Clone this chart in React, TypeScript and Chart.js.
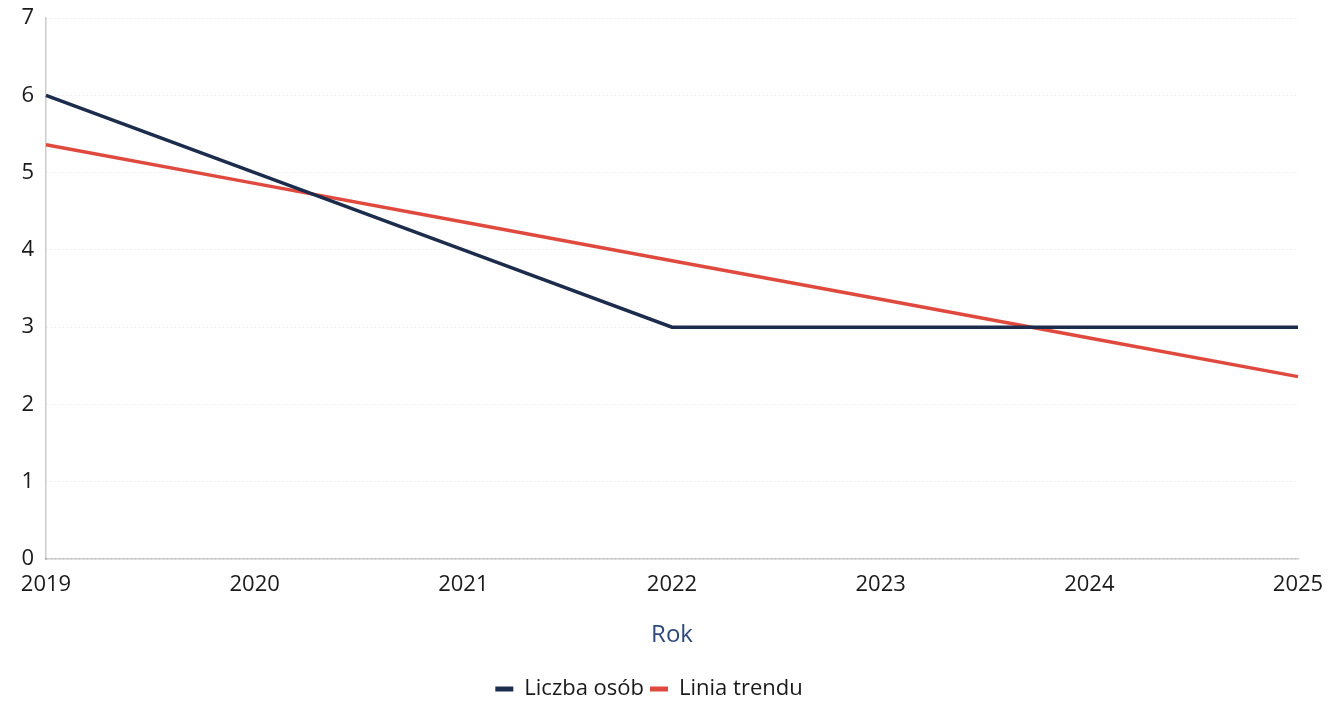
import React, { useEffect, useRef } from "react";
import { Chart, registerables } from "chart.js";

Chart.register(...registerables);

const years = ["2019", "2020", "2021", "2022", "2023", "2024", "2025"];
const liczbaOsob = [6, 5, 4, 3, 3, 3, 3];
const liniaTrendu = [5.36, 4.86, 4.36, 3.86, 3.36, 2.86, 2.36];
const yTicks = [0, 1, 2, 3, 4, 5, 6, 7];

const BLUE = "#1c2c4c";
const RED = "#e0493e";
const FONT = "'Open Sans', 'Noto Sans', sans-serif";

const legendShift = {
  id: "legendShift",
  afterLayout(chart: any) {
    const lg = chart.legend;
    if (lg) {
      lg.top += 8;
      lg.bottom += 8;
    }
  },
};

export default function App() {
  const ref = useRef<HTMLCanvasElement | null>(null);

  useEffect(() => {
    if (!ref.current) return;
    const chart = new Chart(ref.current, {
      type: "line",
      plugins: [legendShift],
      data: {
        labels: years,
        datasets: [
          {
            label: "Liczba osób",
            data: liczbaOsob,
            borderColor: BLUE,
            backgroundColor: BLUE,
            borderWidth: 3.5,
            pointRadius: 0,
            tension: 0,
            fill: false,
          },
          {
            label: "Linia trendu",
            data: liniaTrendu,
            borderColor: RED,
            backgroundColor: RED,
            borderWidth: 3.5,
            pointRadius: 0,
            tension: 0,
            fill: false,
          },
        ],
      },
      options: {
        responsive: false,
        animation: false,
        layout: { padding: { top: 18, right: 40, left: 0, bottom: 0 } },
        plugins: {
          tooltip: { enabled: false },
          legend: {
            position: "bottom",
            labels: {
              color: "#1a1a1a",
              font: { family: FONT, size: 22 },
              boxWidth: 18,
              boxHeight: 5,
              padding: 6,
              generateLabels: (c: any) =>
                Chart.defaults.plugins.legend.labels
                  .generateLabels(c)
                  .map((l: any) => ({ ...l, lineWidth: 0 })),
            },
          },
        },
        scales: {
          x: {
            type: "category",
            offset: false,
            grid: { display: false, drawTicks: false },
            border: { color: "rgba(0,0,0,0.2)", dash: [2, 2], width: 1.5 },
            ticks: {
              color: "#1a1a1a",
              font: { family: FONT, size: 22 },
              padding: 13,
              maxRotation: 0,
              autoSkip: false,
            },
            title: {
              display: true,
              text: "Rok",
              color: "#2e4a7d",
              font: { family: FONT, size: 24 },
              padding: { top: 0, bottom: 14 },
            },
            afterFit: (s: any) => {
              s.height = 105;
            },
          },
          y: {
            min: 0,
            max: 7,
            afterBuildTicks: (s: any) => {
              s.ticks = yTicks.map((v) => ({ value: v }));
            },
            grid: {
              color: "rgba(0,0,0,0.06)",
              drawTicks: false,
            },
            border: { color: "rgba(0,0,0,0.2)", dash: [2, 2], width: 1.5 },
            ticks: {
              color: "#1a1a1a",
              font: { family: FONT, size: 22 },
              padding: 12,
            },
            afterFit: (s: any) => {
              s.width = 46;
              s.paddingTop = 0;
              s.paddingBottom = 0;
            },
          },
        },
      } as any,
    });
    return () => chart.destroy();
  }, []);

  return (
    <div style={{ position: "fixed", left: 0, top: 0, width: 1338, height: 702, background: "#fff" }}>
      <canvas ref={ref} width={1338} height={702} style={{ display: "block" }} />
    </div>
  );
}
